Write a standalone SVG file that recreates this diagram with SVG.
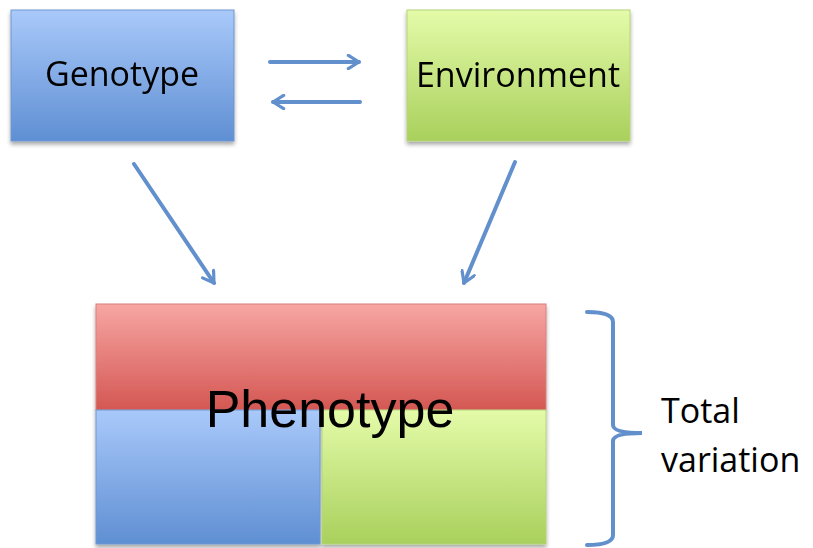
<svg xmlns="http://www.w3.org/2000/svg" width="813" height="548" viewBox="0 0 813 548">
<defs>
<linearGradient id="gBlue" x1="0" y1="0" x2="0" y2="1"><stop offset="0" stop-color="#a9c9fa"/><stop offset="1" stop-color="#5f8fd3"/></linearGradient>
<linearGradient id="gGreen" x1="0" y1="0" x2="0" y2="1"><stop offset="0" stop-color="#e4fba9"/><stop offset="1" stop-color="#a9d05c"/></linearGradient>
<linearGradient id="gRed" x1="0" y1="0" x2="0" y2="1"><stop offset="0" stop-color="#f7a6a3"/><stop offset="1" stop-color="#d45753"/></linearGradient>
<filter id="sh" x="-10%" y="-10%" width="120%" height="125%"><feGaussianBlur in="SourceAlpha" stdDeviation="2"/><feOffset dx="0" dy="3"/><feComponentTransfer><feFuncA type="linear" slope="0.35"/></feComponentTransfer><feMerge><feMergeNode/><feMergeNode in="SourceGraphic"/></feMerge></filter>
<marker id="arr" viewBox="0 0 12 12" refX="10" refY="6" markerWidth="4" markerHeight="4" orient="auto" markerUnits="strokeWidth"><path d="M2,1 L10,6 L2,11" fill="none" stroke="#6290cc" stroke-width="2.4" stroke-linecap="round" stroke-linejoin="round"/></marker>
</defs>
<style>
.lbl{font-family:"Open Sans","Liberation Sans",sans-serif;font-size:34px;fill:#000}
.con{stroke:#6290cc;stroke-width:4;fill:none;stroke-linecap:round;marker-end:url(#arr)}
</style>
<g id="genotype" filter="url(#sh)">
<rect x="11" y="10" width="223" height="131" fill="url(#gBlue)" stroke="#6f97cf" stroke-width="1"/>
<text class="lbl" x="122" y="86" text-anchor="middle">Genotype</text>
</g>
<g id="environment" filter="url(#sh)">
<rect x="407" y="10" width="223" height="131" fill="url(#gGreen)" stroke="#b6d47a" stroke-width="1"/>
<text class="lbl" x="518" y="87" text-anchor="middle">Environment</text>
</g>
<g id="connectors">
<line class="con" x1="270" y1="62" x2="359" y2="62"/>
<line class="con" x1="360" y1="102" x2="273" y2="102"/>
<line class="con" x1="134" y1="164" x2="214" y2="283"/>
<line class="con" x1="515" y1="162" x2="464" y2="283"/>
</g>
<g id="phenotype" filter="url(#sh)">
<rect x="96" y="304" width="450" height="106" fill="url(#gRed)" stroke="#d9807c" stroke-width="1"/>
<rect x="96" y="410" width="224" height="134" fill="url(#gBlue)" stroke="#6f97cf" stroke-width="1"/>
<rect x="322" y="410" width="224" height="134" fill="url(#gGreen)" stroke="#b6d47a" stroke-width="1"/>
<text x="330" y="427" text-anchor="middle" font-family="'Liberation Sans',Arial,sans-serif" font-size="52" fill="#000">Phenotype</text>
</g>
<g id="total-variation">
<path d="M587,312 Q613,312 613,322 L613,425 Q613,433 642,433 Q613,433 613,441 L613,535 Q613,545 587,545" fill="none" stroke="#6290cc" stroke-width="4" stroke-linecap="round"/>
<text class="lbl" x="661" y="423">Total</text>
<text class="lbl" x="661" y="472">variation</text>
</g>
</svg>
